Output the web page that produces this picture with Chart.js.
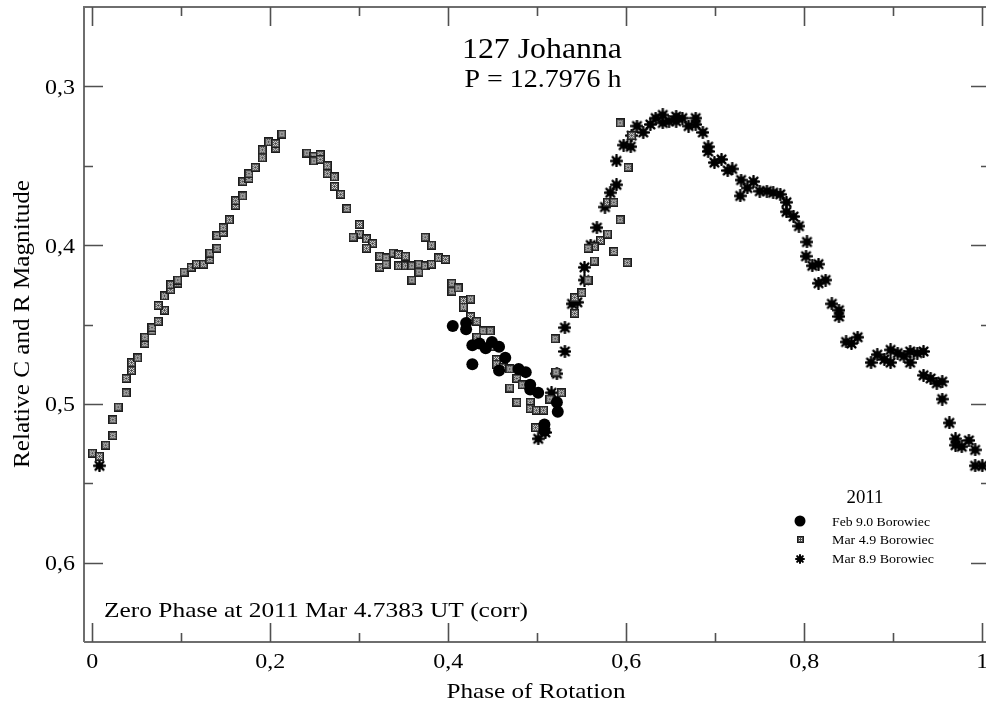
<!DOCTYPE html>
<html>
<head>
<meta charset="utf-8">
<script src="https://cdn.jsdelivr.net/npm/chart.js@4.4.0/dist/chart.umd.min.js"></script>
<style>
  html, body { margin: 0; padding: 0; background: #fff; overflow: hidden; }
  #wrap { width: 986px; height: 706px; overflow: hidden; }
  canvas { display: block; }
</style>
</head>
<body>
<div id="wrap"><canvas id="lc" width="1000" height="706"></canvas></div>
<script>
// Feb 9.0 Borowiec (filled circles)
const febPhase = [0.405, 0.420, 0.420, 0.427, 0.427, 0.435, 0.442, 0.449, 0.457, 0.457,
                  0.464, 0.479, 0.487, 0.492, 0.492, 0.501, 0.522, 0.523, 0.508, 0.508];
const febMag   = [0.451, 0.449, 0.453, 0.463, 0.475, 0.462, 0.465, 0.461, 0.464, 0.479,
                  0.471, 0.478, 0.480, 0.488, 0.491, 0.493, 0.499, 0.505, 0.513, 0.517];

// Mar 4.9 Borowiec (patterned squares)
const mar4Phase = [0.000, 0.008, 0.015, 0.023, 0.023, 0.029, 0.038, 0.038, 0.044, 0.044,
                   0.051, 0.059, 0.059, 0.067, 0.067, 0.074, 0.081, 0.074, 0.081, 0.088,
                   0.088, 0.096, 0.096, 0.103, 0.111, 0.117, 0.125, 0.132, 0.132, 0.140,
                   0.140, 0.147, 0.147, 0.154, 0.161, 0.161, 0.169, 0.169, 0.176, 0.176,
                   0.183, 0.191, 0.191, 0.198, 0.206, 0.206, 0.213, 0.241, 0.249, 0.249,
                   0.256, 0.256, 0.264, 0.264, 0.272, 0.272, 0.279, 0.286, 0.300, 0.300,
                   0.293, 0.308, 0.315, 0.308, 0.323, 0.323, 0.330, 0.330, 0.338, 0.344,
                   0.344, 0.352, 0.352, 0.359, 0.359, 0.367, 0.367, 0.374, 0.381, 0.374,
                   0.381, 0.389, 0.397, 0.404, 0.404, 0.411, 0.417, 0.417, 0.425, 0.425,
                   0.432, 0.439, 0.447, 0.432, 0.447, 0.454, 0.454, 0.462, 0.469, 0.477,
                   0.483, 0.469, 0.477, 0.492, 0.492, 0.499, 0.507, 0.514, 0.527, 0.498,
                   0.520, 0.521, 0.542, 0.542, 0.550, 0.557, 0.564, 0.571, 0.579, 0.564,
                   0.557, 0.586, 0.601, 0.593, 0.579, 0.586, 0.602, 0.593, 0.606];
const mar4Mag   = [0.531, 0.533, 0.526, 0.520, 0.510, 0.502, 0.493, 0.484, 0.479, 0.474,
                   0.471, 0.462, 0.458, 0.454, 0.452, 0.448, 0.441, 0.438, 0.432, 0.428,
                   0.425, 0.424, 0.422, 0.417, 0.414, 0.412, 0.412, 0.409, 0.405, 0.402,
                   0.394, 0.392, 0.389, 0.384, 0.375, 0.372, 0.369, 0.360, 0.358, 0.355,
                   0.351, 0.345, 0.340, 0.335, 0.339, 0.336, 0.330, 0.342, 0.344, 0.347,
                   0.343, 0.346, 0.350, 0.355, 0.357, 0.363, 0.368, 0.377, 0.387, 0.393,
                   0.395, 0.396, 0.399, 0.402, 0.407, 0.414, 0.408, 0.412, 0.405, 0.406,
                   0.413, 0.407, 0.413, 0.413, 0.422, 0.412, 0.417, 0.395, 0.400, 0.413,
                   0.412, 0.408, 0.409, 0.424, 0.429, 0.427, 0.435, 0.439, 0.434, 0.445,
                   0.448, 0.454, 0.454, 0.458, 0.464, 0.472, 0.475, 0.477, 0.478, 0.484,
                   0.488, 0.490, 0.499, 0.499, 0.503, 0.504, 0.504, 0.497, 0.493, 0.515,
                   0.459, 0.480, 0.443, 0.433, 0.430, 0.422, 0.410, 0.397, 0.393, 0.401,
                   0.402, 0.404, 0.411, 0.384, 0.373, 0.373, 0.351, 0.323, 0.331];

// Mar 8.9 Borowiec (asterisks)
const mar8Phase = [0.008, 0.501, 0.509, 0.516, 0.522, 0.531, 0.531, 0.539, 0.545, 0.553,
                   0.553, 0.560, 0.567, 0.576, 0.582, 0.589, 0.589, 0.597, 0.605, 0.606,
                   0.612, 0.619, 0.627, 0.633, 0.641, 0.641, 0.648, 0.656, 0.656, 0.663,
                   0.670, 0.678, 0.678, 0.686, 0.692, 0.692, 0.699, 0.707, 0.714, 0.719,
                   0.729, 0.728, 0.736, 0.743, 0.750, 0.758, 0.765, 0.773, 0.780, 0.780,
                   0.788, 0.794, 0.803, 0.802, 0.809, 0.816, 0.816, 0.824, 0.831, 0.839,
                   0.839, 0.847, 0.853, 0.860, 0.875, 0.882, 0.890, 0.897, 0.897, 0.905,
                   0.912, 0.919, 0.919, 0.927, 0.934, 0.934, 0.942, 0.949, 0.955, 0.955,
                   0.963, 0.970, 0.970, 0.977, 0.985, 0.992, 0.992, 1.000];
const mar8Mag   = [0.539, 0.522, 0.518, 0.493, 0.481, 0.467, 0.452, 0.437, 0.436, 0.422,
                   0.414, 0.400, 0.389, 0.376, 0.367, 0.362, 0.347, 0.337, 0.338, 0.331,
                   0.325, 0.329, 0.324, 0.320, 0.318, 0.323, 0.322, 0.319, 0.322, 0.320,
                   0.325, 0.320, 0.324, 0.329, 0.338, 0.341, 0.348, 0.346, 0.353, 0.352,
                   0.359, 0.369, 0.364, 0.360, 0.366, 0.366, 0.367, 0.368, 0.373, 0.379,
                   0.382, 0.388, 0.398, 0.407, 0.413, 0.412, 0.424, 0.422, 0.437, 0.441,
                   0.445, 0.461, 0.462, 0.458, 0.474, 0.469, 0.472, 0.466, 0.474, 0.468,
                   0.470, 0.467, 0.474, 0.468, 0.467, 0.482, 0.484, 0.487, 0.486, 0.497,
                   0.512, 0.522, 0.526, 0.527, 0.523, 0.529, 0.539, 0.539];

const seriesNames = ['Feb 9.0 Borowiec', 'Mar 4.9 Borowiec', 'Mar 8.9 Borowiec'];

const xMajor = [0, 0.2, 0.4, 0.6, 0.8, 1];
const xLabels = ['0', '0,2', '0,4', '0,6', '0,8', '1'];
const xMinor = [0.1, 0.3, 0.5, 0.7, 0.9];
const yMajor = [0.3, 0.4, 0.5, 0.6];
const yLabels = ['0,3', '0,4', '0,5', '0,6'];
const yMinor = [0.35, 0.45, 0.55];

const SERIF = '"Liberation Serif", "Times New Roman", serif';

function pairs(xs, ys) {
  return xs.map((v, i) => ({ x: v, y: ys[i] }));
}

// dark square with a light ring pattern, as in the original plot
function makeSquare(size) {
  const c = document.createElement('canvas');
  c.width = size; c.height = size;
  const g = c.getContext('2d');
  g.fillStyle = '#1c1c1c';
  g.fillRect(0, 0, size, size);
  g.fillStyle = '#4d4d4d';
  g.fillRect(1, 1, size - 2, size - 2);
  const m = Math.floor(size / 2);
  for (let i = 2; i < size - 2; i++) {
    for (let j = 2; j < size - 2; j++) {
      if ((i + j) % 2 === 0 && !(i === m && j === m)) {
        g.fillStyle = '#e8e8e8';
        g.fillRect(i, j, 1, 1);
      }
    }
  }
  return c;
}

function makeStar(size, lw) {
  const c = document.createElement('canvas');
  c.width = size; c.height = size;
  const g = c.getContext('2d');
  const m = size / 2, r = size / 2 - 1;
  g.strokeStyle = '#000';
  g.lineWidth = lw;
  g.lineCap = 'round';
  g.beginPath();
  for (let k = 0; k < 4; k++) {
    const a = k * Math.PI / 4;
    g.moveTo(m - r * Math.cos(a), m - r * Math.sin(a));
    g.lineTo(m + r * Math.cos(a), m + r * Math.sin(a));
  }
  g.stroke();
  g.fillStyle = '#000';
  g.beginPath();
  g.arc(m, m, size / 4, 0, Math.PI * 2);
  g.fill();
  return c;
}

const squareImg = makeSquare(9);
const starImg = makeStar(13, 2.4);
const squareSmall = makeSquare(7);
const starSmall = makeStar(10, 2);

function txt(ctx, s, x, y, size, width, align) {
  ctx.font = size + 'px ' + SERIF;
  const w = ctx.measureText(s).width;
  const k = width ? width / w : 1.09;
  ctx.save();
  ctx.translate(x, y);
  ctx.scale(k, 1);
  ctx.textAlign = align || 'left';
  ctx.textBaseline = 'alphabetic';
  ctx.fillStyle = '#000';
  ctx.fillText(s, 0, 0);
  ctx.restore();
}

const framePlugin = {
  id: 'frame',
  beforeDatasetsDraw(chart) {
    const { ctx, chartArea: a, scales } = chart;
    const xs = scales.x, ys = scales.y;
    ctx.save();
    ctx.strokeStyle = '#6e6e6e';
    ctx.lineWidth = 2;
    ctx.beginPath();
    ctx.moveTo(a.left, a.bottom); ctx.lineTo(a.left, a.top); ctx.lineTo(a.right, a.top);
    ctx.moveTo(a.left, a.bottom); ctx.lineTo(a.right, a.bottom);
    ctx.stroke();

    ctx.strokeStyle = '#505050';
    ctx.lineWidth = 1.6;
    ctx.beginPath();
    const xt = (v, len) => {
      const p = Math.round(xs.getPixelForValue(v)) + 0.5;
      ctx.moveTo(p, a.top); ctx.lineTo(p, a.top + len);
      ctx.moveTo(p, a.bottom); ctx.lineTo(p, a.bottom - len);
    };
    const yt = (v, len) => {
      const p = Math.round(ys.getPixelForValue(v)) + 0.5;
      ctx.moveTo(a.left, p); ctx.lineTo(a.left + len, p);
      ctx.moveTo(a.right, p); ctx.lineTo(a.right - len, p);
    };
    xMajor.forEach(v => xt(v, 19));
    xMinor.forEach(v => xt(v, 9));
    yMajor.forEach(v => yt(v, 19));
    yMinor.forEach(v => yt(v, 9));
    ctx.stroke();
    ctx.restore();
  },
  afterDraw(chart) {
    const { ctx, scales } = chart;
    const xs = scales.x, ys = scales.y;

    xMajor.forEach((v, i) => txt(ctx, xLabels[i], xs.getPixelForValue(v), 668, 22, null, 'center'));
    yMajor.forEach((v, i) => txt(ctx, yLabels[i], 75, ys.getPixelForValue(v) + 7.5, 22, null, 'right'));

    txt(ctx, 'Phase of Rotation', 536, 698, 22, 179, 'center');
    ctx.save();
    ctx.translate(29, 324);
    ctx.rotate(-Math.PI / 2);
    txt(ctx, 'Relative C and R Magnitude', 0, 0, 24, 288, 'center');
    ctx.restore();

    txt(ctx, '127 Johanna', 542, 58, 29, 160, 'center');
    txt(ctx, 'P = 12.7976 h', 543, 86.5, 25, 157, 'center');
    txt(ctx, 'Zero Phase at 2011 Mar 4.7383 UT (corr)', 104, 616.5, 22, 424, 'left');

    // legend
    txt(ctx, '2011', 865, 503, 18, 37, 'center');
    ctx.save();
    ctx.fillStyle = '#000';
    ctx.beginPath();
    ctx.arc(800, 521, 5.5, 0, Math.PI * 2);
    ctx.fill();
    ctx.drawImage(squareSmall, 797, 536, 7, 7);
    ctx.drawImage(starSmall, 795, 554, 10, 10);
    ctx.restore();
    txt(ctx, seriesNames[0], 832, 526, 12.5, 98, 'left');
    txt(ctx, seriesNames[1], 832, 544, 12.5, 102, 'left');
    txt(ctx, seriesNames[2], 832, 563, 12.5, 102, 'left');
  }
};

new Chart(document.getElementById('lc').getContext('2d'), {
  type: 'scatter',
  data: {
    datasets: [
      {
        label: seriesNames[0],
        data: pairs(febPhase, febMag),
        pointStyle: 'circle',
        pointRadius: 6,
        backgroundColor: '#000',
        borderColor: '#000',
        borderWidth: 0
      },
      {
        label: seriesNames[1],
        data: pairs(mar4Phase, mar4Mag),
        pointStyle: squareImg,
        pointRadius: 5
      },
      {
        label: seriesNames[2],
        data: pairs(mar8Phase, mar8Mag),
        pointStyle: starImg,
        pointRadius: 6
      }
    ]
  },
  options: {
    responsive: false,
    animation: false,
    // right edge of the plot frame falls at x = 990, just outside the visible 986 px
    layout: { padding: { left: 84, top: 6, right: 10, bottom: 64 } },
    plugins: { legend: { display: false }, tooltip: { enabled: false } },
    scales: {
      x: { type: 'linear', min: -0.0094, max: 1.0087, display: false },
      y: { type: 'linear', min: 0.25, max: 0.65, reverse: true, display: false }
    }
  },
  plugins: [framePlugin]
});
</script>
</body>
</html>
